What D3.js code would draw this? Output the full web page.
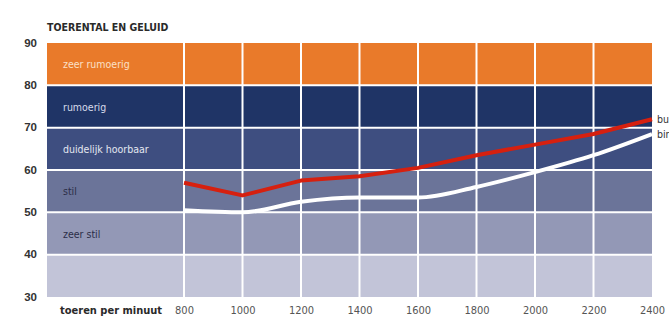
<!DOCTYPE html>
<html>
<head>
<meta charset="utf-8">
<script src="https://cdn.jsdelivr.net/npm/d3@7/dist/d3.min.js"></script>
<style>
  html, body { margin: 0; padding: 0; background: #ffffff; overflow: hidden; }
  svg { display: block; font-family: "DejaVu Sans Condensed", "DejaVu Sans", sans-serif; font-stretch: condensed; }
  .narrow { font-family: "Liberation Sans Narrow", "DejaVu Sans Condensed", sans-serif; font-stretch: condensed; }
</style>
</head>
<body>
<svg id="chart" width="669" height="326"></svg>
<script>
// Engine speed (rpm) and measured sound level (dB)
const rpm = [800, 1000, 1200, 1400, 1600, 1800, 2000, 2200, 2400];
const buiten = [57, 54, 57.5, 58.5, 60.5, 63.5, 66, 68.5, 72];
const binnen = [50.5, 50, 52.5, 53.5, 53.5, 56, 59.5, 63.5, 68.5];
const yTicks = [30, 40, 50, 60, 70, 80, 90];

// Loudness zones
const zoneLabels = ["", "zeer stil", "stil", "duidelijk hoorbaar", "rumoerig", "zeer rumoerig"];
const zoneFrom = [30, 40, 50, 60, 70, 80];
const zoneTo = [40, 50, 60, 70, 80, 90];
const zoneColors = ["#c2c4d8", "#9398b6", "#6b7499", "#3e4e80", "#1f3466", "#e97a2a"];
const zoneText = ["#2b2e48", "#2b2e48", "#2b2e48", "#e4e7f0", "#d6dbea", "#fbe0c8"];

const svg = d3.select("#chart");
const plotLeft = 47, plotRight = 652, plotTop = 43, plotBottom = 297;

const x = d3.scaleLinear().domain([800, 2400]).range([184, plotRight]);
const y = d3.scaleLinear().domain([30, 90]).range([plotBottom, plotTop]);

// Title
svg.append("text")
  .attr("x", plotLeft).attr("y", 31)
  .attr("font-size", 10.5).attr("font-weight", "bold")
  .attr("fill", "#2a2a2a")
  .text("TOERENTAL EN GELUID");

// Zone bands
const zones = zoneFrom.map((d, i) => ({ from: d, to: zoneTo[i], label: zoneLabels[i], color: zoneColors[i], text: zoneText[i] }));
svg.append("g").selectAll("rect").data(zones).join("rect")
  .attr("x", plotLeft).attr("width", plotRight - plotLeft)
  .attr("y", d => y(d.to)).attr("height", d => y(d.from) - y(d.to))
  .attr("fill", d => d.color);

// White grid lines
const grid = svg.append("g").attr("stroke", "#ffffff").attr("stroke-width", 2);
grid.selectAll("line.h").data(yTicks.slice(1, -1)).join("line")
  .attr("class", "h")
  .attr("x1", plotLeft).attr("x2", plotRight)
  .attr("y1", d => y(d)).attr("y2", d => y(d));
grid.selectAll("line.v").data(rpm.slice(0, -1)).join("line")
  .attr("class", "v")
  .attr("x1", d => x(d)).attr("x2", d => x(d))
  .attr("y1", plotTop).attr("y2", plotBottom);

// Zone labels
svg.append("g").selectAll("text").data(zones).join("text")
  .attr("x", 63)
  .attr("y", d => y((d.from + d.to) / 2) + 4)
  .attr("font-size", 10.5)
  .attr("fill", d => d.text)
  .text(d => d.label);

// Y axis ticks
const yAxis = d3.axisLeft(y).tickValues(yTicks).tickSize(0).tickPadding(0);
const ya = svg.append("g").attr("transform", "translate(37,0)").call(yAxis);
ya.select(".domain").remove();
ya.selectAll("text")
  .attr("font-family", null)
  .attr("font-size", 11.5).attr("font-weight", "bold").attr("fill", "#333333")
  .attr("dy", null).attr("dominant-baseline", "middle");

// X axis ticks
const xAxis = d3.axisBottom(x).tickValues(rpm).tickFormat(d3.format("d")).tickSize(0).tickPadding(0);
const xa = svg.append("g").attr("transform", "translate(0,310)").call(xAxis);
xa.select(".domain").remove();
xa.selectAll("text")
  .attr("font-family", null)
  .attr("class", "narrow")
  .attr("font-size", 11).attr("fill", "#555555")
  .attr("dy", "0.32em");

svg.append("text")
  .attr("x", 60).attr("y", 314)
  .attr("font-size", 11).attr("font-weight", "bold").attr("fill", "#2a2a2a")
  .text("toeren per minuut");

// Sound level lines
const lineRed = d3.line().x((d, i) => x(rpm[i])).y(d => y(d));
const lineWhite = d3.line().x((d, i) => x(rpm[i])).y(d => y(d)).curve(d3.curveMonotoneX);

svg.append("path").datum(binnen)
  .attr("d", lineWhite)
  .attr("fill", "none").attr("stroke", "#ffffff").attr("stroke-width", 4);

svg.append("path").datum(buiten)
  .attr("d", lineRed)
  .attr("fill", "none").attr("stroke", "#d6200f").attr("stroke-width", 4)
  .attr("stroke-linejoin", "round");

// Series labels at the line ends
svg.append("text")
  .attr("x", 657).attr("y", y(buiten[buiten.length - 1]) + 4)
  .attr("font-size", 10.5).attr("fill", "#333333").text("buiten");
svg.append("text")
  .attr("x", 657).attr("y", y(binnen[binnen.length - 1]) + 4)
  .attr("font-size", 10.5).attr("fill", "#333333").text("binnen");
</script>
</body>
</html>
